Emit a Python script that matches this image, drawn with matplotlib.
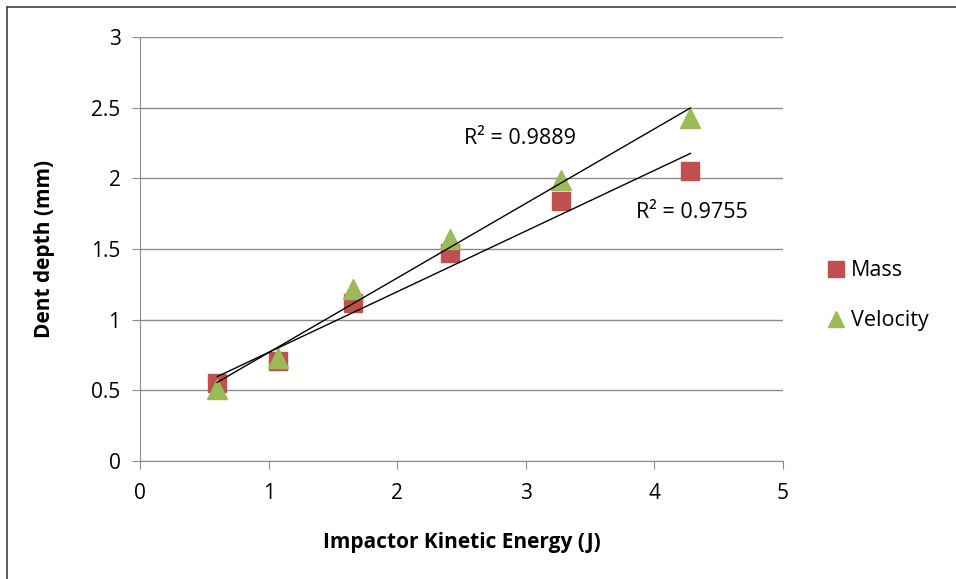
import matplotlib
matplotlib.use("Agg")
import matplotlib.pyplot as plt
import numpy as np

energy = [0.60, 1.07, 1.66, 2.41, 3.27, 4.28]
mass_depth = [0.55, 0.71, 1.12, 1.47, 1.84, 2.05]
velocity_depth = [0.51, 0.73, 1.22, 1.57, 1.99, 2.43]
r2_mass = "R² = 0.9755"
r2_velocity = "R² = 0.9889"

plt.rcParams['font.family'] = ['Open Sans', 'DejaVu Sans']

fig = plt.figure(figsize=(9.56, 5.79), dpi=100)
ax = fig.add_axes([140/956, 1-461/579, (783-140)/956, (461-37)/579])

grid_c = '#8c8c8c'
ax.set_xlim(0, 5)
ax.set_ylim(0, 3)
ax.set_xticks(range(0, 6))
ax.set_yticks([0, 0.5, 1, 1.5, 2, 2.5, 3])
ax.set_yticklabels(['0', '0.5', '1', '1.5', '2', '2.5', '3'])
ax.yaxis.grid(True, color=grid_c, linewidth=1.0)
ax.set_axisbelow(True)
for s in ['top', 'right']:
    ax.spines[s].set_visible(False)
for s in ['left', 'bottom']:
    ax.spines[s].set_color(grid_c)
ax.tick_params(axis='both', colors=grid_c, labelcolor='black', labelsize=15, length=6, direction='out')
ax.tick_params(axis='x', pad=10)
ax.tick_params(axis='y', pad=8)

x = np.array(energy)
ax.plot(x, mass_depth, linestyle='none', marker='s', markersize=13, color='#C0504D', label='Mass')
ax.plot(x, velocity_depth, linestyle='none', marker='^', markersize=14, color='#9BBB59', label='Velocity')

for ys in [mass_depth, velocity_depth]:
    m, b = np.polyfit(x, ys, 1)
    xs = np.array([x.min(), x.max()])
    ax.plot(xs, m*xs + b, color='black', linewidth=1.0)

ax.text(2.52, 2.28, r2_velocity, fontsize=15.5, ha='left', va='center')
ax.text(3.86, 1.76, r2_mass, fontsize=15.5, ha='left', va='center')

ax.set_xlabel('Impactor Kinetic Energy (J)', fontsize=15, fontweight='bold', labelpad=20)
ax.set_ylabel('Dent depth (mm)', fontsize=15, fontweight='bold', labelpad=26)

leg = ax.legend(loc='center left', bbox_to_anchor=(1.055, 0.39), frameon=False,
                fontsize=15.5, handlelength=0.8, handletextpad=0.3, labelspacing=1.35,
                markerscale=0.85, borderaxespad=0)

# outer frame lines (left and top)
fig.add_artist(plt.Line2D([7/956, 7/956], [0, 1-7/579], color='#404040', linewidth=1.2, transform=fig.transFigure))
fig.add_artist(plt.Line2D([7/956, 1], [1-7/579, 1-7/579], color='#404040', linewidth=1.2, transform=fig.transFigure))

fig.savefig('out.png', dpi=100)
